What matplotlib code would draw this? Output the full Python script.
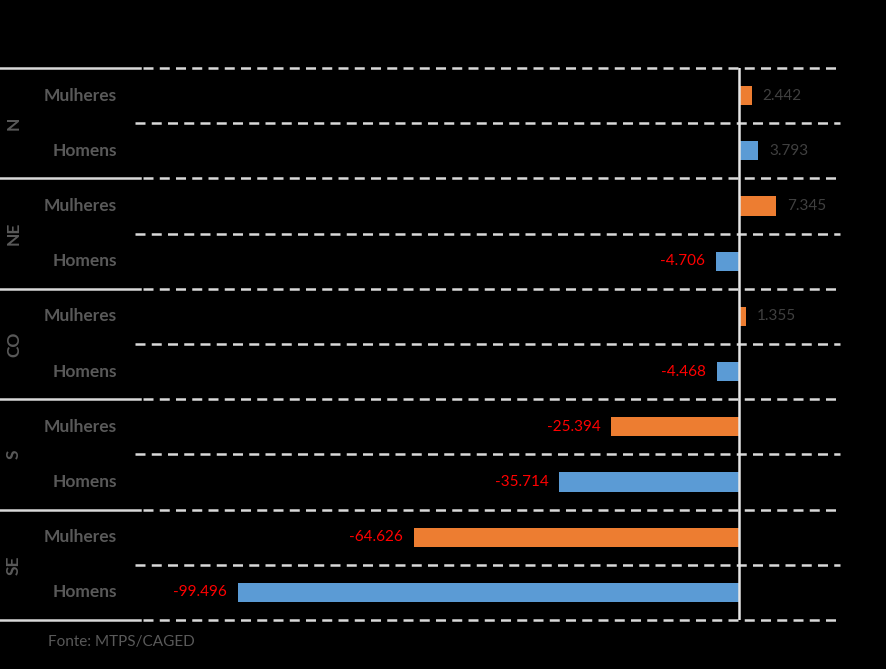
import matplotlib.pyplot as plt
from matplotlib.lines import Line2D

plt.rcParams['font.family'] = ['Lato', 'DejaVu Sans']

# dados (saldo de empregos por região e sexo)
regioes = ['N', 'NE', 'CO', 'S', 'SE']
sexos = ['Mulheres', 'Homens']
mulheres = [2442, 7345, 1355, -25394, -64626]
homens = [3793, -4706, -4468, -35714, -99496]

cor_sexo = {'Mulheres': '#ED7D31', 'Homens': '#5B9BD5'}

fig = plt.figure(figsize=(8.86, 6.69), dpi=100, facecolor='black')
ax = fig.add_axes([140 / 886, 1 - 620 / 669, 700 / 886, 552 / 669])
ax.set_facecolor('black')

valores, cores, rotulos = [], [], []
for i, r in enumerate(regioes):
    for s, v in zip(sexos, [mulheres[i], homens[i]]):
        valores.append(v)
        cores.append(cor_sexo[s])
        rotulos.append(s)

ypos = list(range(len(valores)))
ax.barh(ypos, valores, height=0.35, color=cores, zorder=3)

ax.set_xlim(-119000, 20000)
ax.set_ylim(len(valores) - 0.5, -0.5)
ax.axis('off')

fmt = lambda v: f'{v:,}'.replace(',', '.')
for y, v in zip(ypos, valores):
    if v >= 0:
        ax.annotate(fmt(v), (v, y), xytext=(8, 0), textcoords='offset points',
                    ha='left', va='center', fontsize=11, color='#404040')
    else:
        ax.annotate(fmt(v), (v, y), xytext=(-8, 0), textcoords='offset points',
                    ha='right', va='center', fontsize=11, color='#FF0000')

# linha do zero
ax.axvline(0, color='#e6e6e6', lw=1.8, zorder=4)

# linhas de grade
tr = ax.get_yaxis_transform()
for k in range(len(valores) + 1):
    yb = k - 0.5
    if k % 2 == 0:
        ax.add_line(Line2D([-0.2, 0], [yb, yb], transform=tr, color='#d9d9d9',
                           lw=1.8, clip_on=False))
        ax.add_line(Line2D([0.004, 1], [yb, yb], transform=tr, color='#d9d9d9',
                           lw=1.8, ls=(0, (4, 2.5)), clip_on=False, zorder=2))
    else:
        ax.add_line(Line2D([-0.007, 1], [yb, yb], transform=tr, color='#d9d9d9',
                           lw=1.8, ls=(0, (4, 2.5)), clip_on=False, zorder=2))

# rótulos das categorias
for y, s in zip(ypos, rotulos):
    ax.text(-0.033, y, s, transform=tr, ha='right', va='center',
            fontsize=12.5, fontweight='bold', color='#595959')
for i, r in enumerate(regioes):
    ax.text(-0.18, 2 * i + 0.5, r, transform=tr, ha='center', va='center',
            rotation=90, fontsize=12.5, fontweight='bold', color='#595959')

fig.text(48 / 886, 1 - 642 / 669, 'Fonte: MTPS/CAGED', ha='left', va='center',
         fontsize=11, color='#595959')

fig.savefig('out.png', dpi=100, facecolor='black')
